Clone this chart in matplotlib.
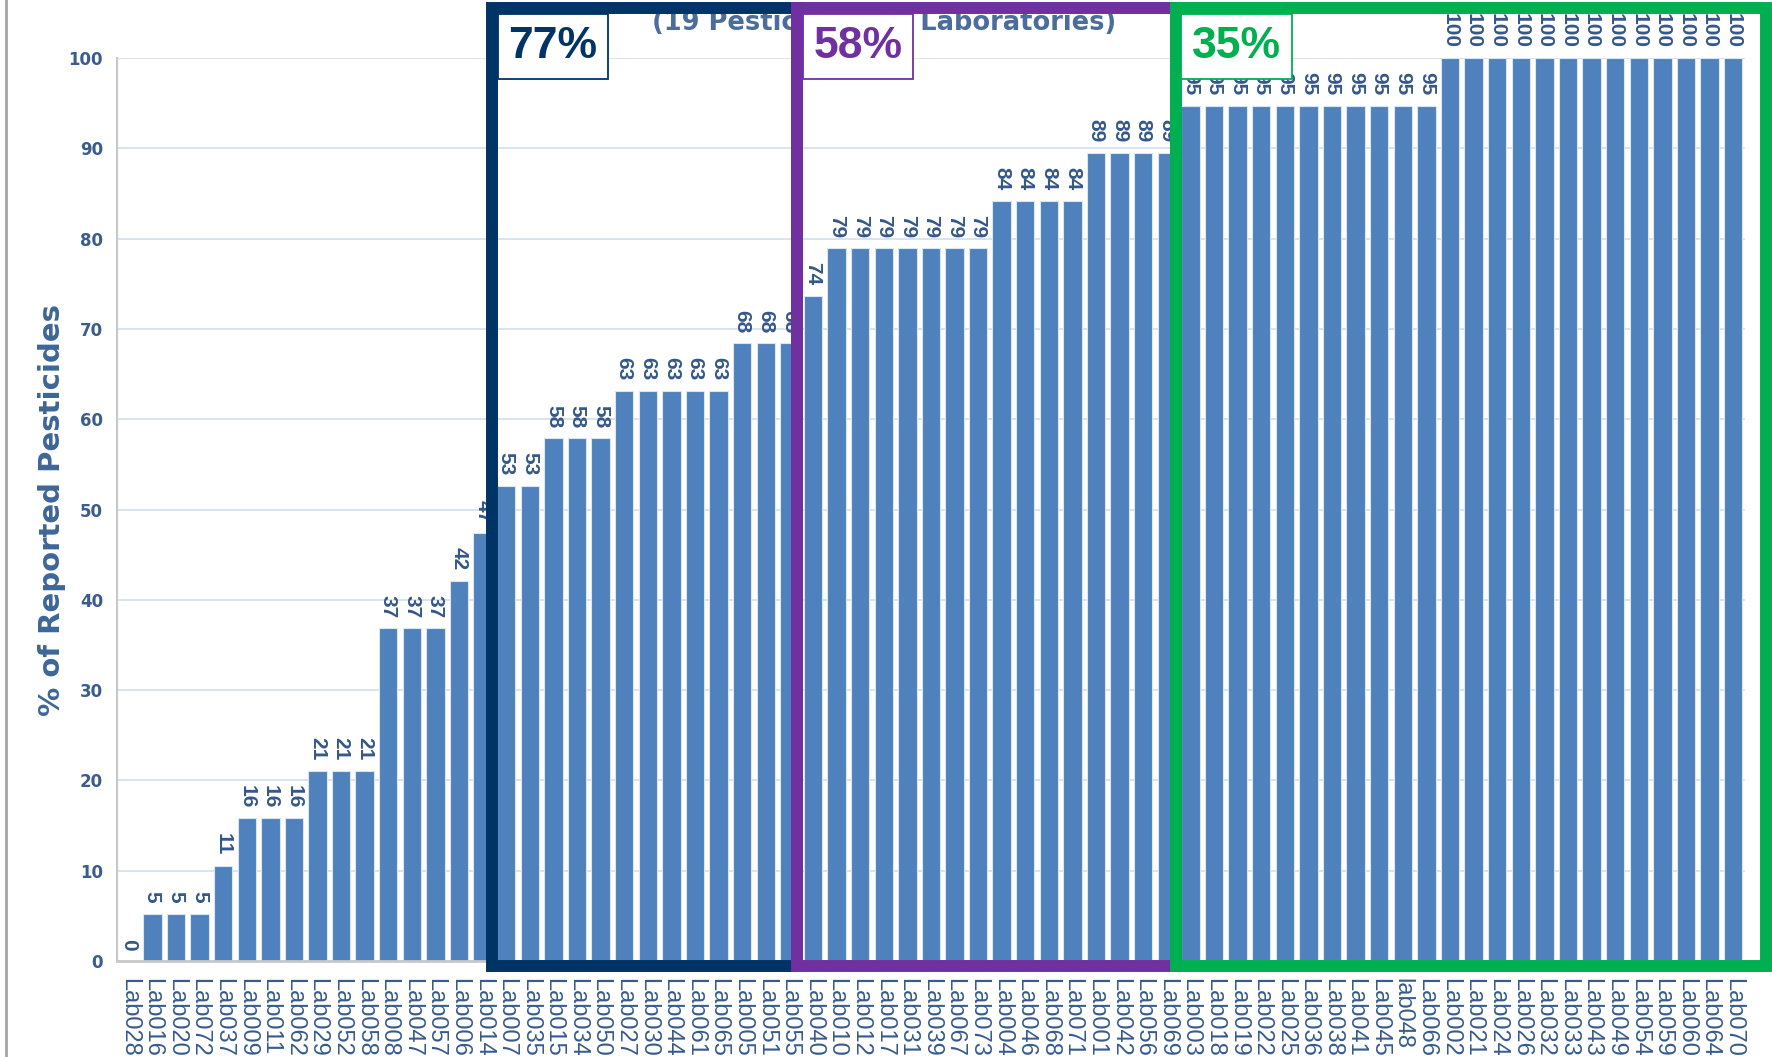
import matplotlib
matplotlib.use("Agg")
import matplotlib.pyplot as plt
from matplotlib.patches import Rectangle
from matplotlib.lines import Line2D

labs = ["Lab028", "Lab016", "Lab020", "Lab072", "Lab037", "Lab009", "Lab011", "Lab062",
        "Lab029", "Lab052", "Lab058", "Lab008", "Lab047", "Lab057", "Lab006", "Lab014",
        "Lab007", "Lab035", "Lab015", "Lab034", "Lab050", "Lab027", "Lab030", "Lab044",
        "Lab061", "Lab065", "Lab005", "Lab051", "Lab055", "Lab040", "Lab010", "Lab012",
        "Lab017", "Lab031", "Lab039", "Lab067", "Lab073", "Lab004", "Lab046", "Lab068",
        "Lab071", "Lab001", "Lab042", "Lab056", "Lab069", "Lab003", "Lab018", "Lab019",
        "Lab022", "Lab025", "Lab036", "Lab038", "Lab041", "Lab045", "lab048", "Lab066",
        "Lab002", "Lab021", "Lab024", "Lab026", "Lab032", "Lab033", "Lab043", "Lab049",
        "Lab054", "Lab059", "Lab060", "Lab064", "Lab070"]

# % of the 19 pesticides reported by each lab
pct = [0, 5.26, 5.26, 5.26, 10.53, 15.79, 15.79, 15.79,
       21.05, 21.05, 21.05, 36.84, 36.84, 36.84, 42.11, 47.37,
       52.63, 52.63, 57.89, 57.89, 57.89, 63.16, 63.16, 63.16,
       63.16, 63.16, 68.42, 68.42, 68.42, 73.68, 78.95, 78.95,
       78.95, 78.95, 78.95, 78.95, 78.95, 84.21, 84.21, 84.21,
       84.21, 89.47, 89.47, 89.47, 89.47, 94.74, 94.74, 94.74,
       94.74, 94.74, 94.74, 94.74, 94.74, 94.74, 94.74, 94.74,
       100, 100, 100, 100, 100, 100, 100, 100,
       100, 100, 100, 100, 100]

# highlighted groups
group_edges = [15.39, 28.32, 44.38, 69.4]
group_colors = ["#003366", "#7030A0", "#00B050"]
group_text = ["77%", "58%", "35%"]

bar_color = "#4F81BD"
txt_color = "#3A5D8E"
narrow = ["Liberation Sans Narrow", "Liberation Sans", "DejaVu Sans"]

fig = plt.figure(figsize=(17.72, 10.57), dpi=100)
ax = fig.add_axes([0.066, 0.0908, 0.9187, 0.8543])

x = list(range(len(labs)))
ax.bar(x, pct, width=0.78, color=bar_color, edgecolor="#DCE6F2", linewidth=0.8, zorder=2)

for i, v in enumerate(pct):
    ax.annotate(f"{v:.0f}", (i, v), xytext=(0, 7.5), textcoords="offset points",
                rotation=270, ha="center", va="bottom", fontsize=15,
                fontweight="bold", family=narrow, color="#34578A", zorder=3)

ax.set_xlim(-0.5, len(labs) - 0.5)
ax.set_ylim(0, 100)
ax.set_yticks(range(0, 101, 10))
ax.set_xticks(x)
ax.set_xticklabels(labs, rotation=270, fontsize=17, family=narrow, color="#355A8C")
ax.tick_params(axis="x", length=0, pad=12)
ax.tick_params(axis="y", length=0, pad=10, labelsize=12, labelcolor=txt_color)
for t in ax.get_yticklabels():
    t.set_fontweight("bold")

ax.yaxis.grid(True, color="#D6E2F0", linewidth=1.3)
ax.set_axisbelow(True)
for s in ["top", "right"]:
    ax.spines[s].set_visible(False)
ax.spines["left"].set_color("#C8C8C8")
ax.spines["left"].set_linewidth(1.5)
ax.spines["bottom"].set_color("#C8C8C8")
ax.spines["bottom"].set_linewidth(2)

ax.set_ylabel("% of Reported Pesticides", fontsize=21, fontweight="bold", color="#3D6696")
ax.yaxis.set_label_coords(-0.031, 0.5)

# subtitle, partly hidden behind the group boxes
ax.text(32.0, 103.9, "(19 Pesticides, 69 Laboratories)", ha="center", va="center",
        fontsize=18.5, fontweight="bold", color="#4A6D9C", clip_on=False, zorder=1)

for k in range(3):
    x0, x1 = group_edges[k], group_edges[k + 1]
    c = group_colors[k]
    ax.add_patch(Rectangle((x0, -0.55), x1 - x0, 106.05, fill=False, edgecolor=c,
                           linewidth=8.6, joinstyle="miter", clip_on=False, zorder=6))
    ax.add_patch(Rectangle((x0 + 0.24, 97.7), 4.7, 7.2, facecolor="white", edgecolor=c,
                           linewidth=1.3, clip_on=False, zorder=7))
    ax.text(x0 + 0.24 + 2.35, 101.3, group_text[k], ha="center", va="center",
            fontsize=32, fontweight="bold", family=narrow, color=c, zorder=8)

# slide border on the left
fig.add_artist(Line2D([0.0035, 0.0035], [0, 1], color="#A6A6A6", linewidth=2))

fig.savefig("out.png", dpi=100)
